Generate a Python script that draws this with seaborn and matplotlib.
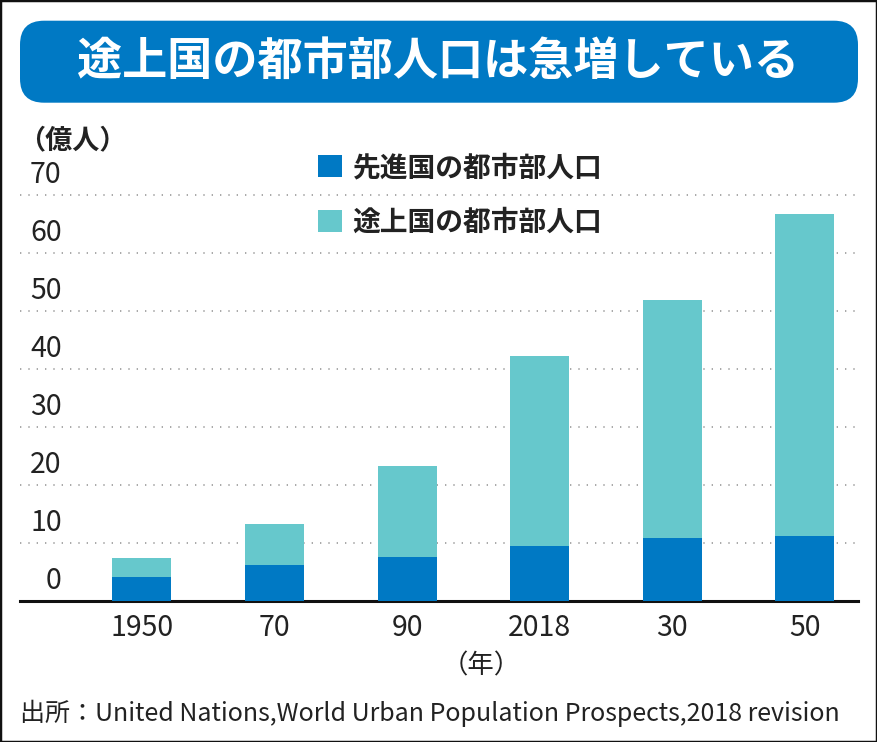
import matplotlib
matplotlib.use("Agg")
import matplotlib.pyplot as plt
import matplotlib.transforms as mtransforms
from matplotlib.patches import FancyBboxPatch, Rectangle
from matplotlib import font_manager
import seaborn as sns
import pandas as pd

# ---- data ----
years = ["1950", "70", "90", "2018", "30", "50"]
developed = [4.2, 6.2, 7.6, 9.5, 10.9, 11.2]      # 先進国の都市部人口 (億人)
developing = [3.3, 7.0, 15.6, 32.8, 41.0, 55.5]   # 途上国の都市部人口 (億人)
yticks = [0, 10, 20, 30, 40, 50, 60, 70]
label_dev = "先進国の都市部人口"
label_ding = "途上国の都市部人口"
title = "途上国の都市部人口は急増している"
source = "出所：United Nations,World Urban Population Prospects,2018 revision"

DARK = "#0079C4"
LIGHT = "#66C8CC"
TXT = "#222222"

sns.set_theme(style="white")
plt.rcParams["font.family"] = ["Noto Sans CJK JP", "DejaVu Sans"]

df = pd.DataFrame({"year": years, "developed": developed, "developing": developing})
df["total"] = df["developed"] + df["developing"]

fig = plt.figure(figsize=(8.77, 7.42), dpi=100)
W, H = 877, 742
ax = fig.add_axes([20 / W, 1 - 601 / H, 838 / W, (601 - 180) / H])

sns.barplot(data=df, x="year", y="total", order=years, color=LIGHT, width=0.445,
            saturation=1, ax=ax, label=label_ding, zorder=3,
            linewidth=0, edgecolor="none")
sns.barplot(data=df, x="year", y="developed", order=years, color=DARK, width=0.445,
            saturation=1, ax=ax, label=label_dev, zorder=3,
            linewidth=0, edgecolor="none")

ax.set_xlim(-0.918, 5.40)
ax.set_ylim(0, 72.6)
ax.set_xlabel("")
ax.set_ylabel("")

# grid
ax.set_yticks(yticks)
ax.set_yticklabels([str(v) for v in yticks])
ax.grid(axis="y", color="#9a9a9a", linestyle=(0, (0.8, 4.2)), linewidth=1.2)
ax.grid(axis="x", visible=False)
ax.set_axisbelow(True)

for s in ["top", "right", "left"]:
    ax.spines[s].set_visible(False)
ax.spines["bottom"].set_color("#111111")
ax.spines["bottom"].set_linewidth(2.2)

ax.tick_params(axis="x", length=0, pad=9, labelsize=20.5, labelcolor=TXT)
ax.tick_params(axis="y", length=0, pad=-30, labelsize=20.5, labelcolor=TXT)
offset = mtransforms.ScaledTranslation(0, 3.5 / 72, fig.dpi_scale_trans)
for lab in ax.get_yticklabels():
    lab.set_verticalalignment("bottom")
    lab.set_transform(lab.get_transform() + offset)

# legend
handles, labels = ax.get_legend_handles_labels()
order = [labels.index(label_dev), labels.index(label_ding)]
ax.legend([handles[i] for i in order], [labels[i] for i in order],
          loc="upper left", bbox_to_anchor=(318 / W, 1 - 154 / H),
          bbox_transform=fig.transFigure, frameon=False,
          prop={"size": 20, "weight": "bold"}, labelcolor=TXT,
          handlelength=0.85, handleheight=0.85, handletextpad=0.4,
          labelspacing=0.95, borderpad=0, borderaxespad=0)

# unit labels
fig.text(18 / W, 1 - 140 / H, "（億人）", fontsize=19.5, fontweight="bold",
         color=TXT, ha="left", va="center")
fig.text(481 / W, 1 - 666 / H, "（年）", fontsize=19, color=TXT,
         ha="center", va="center")

# source
fig.text(20 / W, 1 - 713 / H, source, fontsize=18, color=TXT, ha="left",
         va="center")

# title banner
banner = FancyBboxPatch((0.20, (H - 102.7) / 100), 8.38, 0.82,
                        boxstyle="round,pad=0,rounding_size=0.24",
                        transform=fig.dpi_scale_trans, facecolor=DARK,
                        edgecolor="none", zorder=1)
fig.add_artist(banner)
fig.text(438 / W, 1 - 62 / H, title, fontsize=32.5, fontweight="bold",
         color="white", ha="center", va="center", zorder=2)

# outer frame
fig.add_artist(Rectangle((0, 0), 1, 1, transform=fig.transFigure, fill=False,
                         edgecolor="#111111", linewidth=2.5))

fig.savefig("out.png", dpi=100, facecolor="white")
